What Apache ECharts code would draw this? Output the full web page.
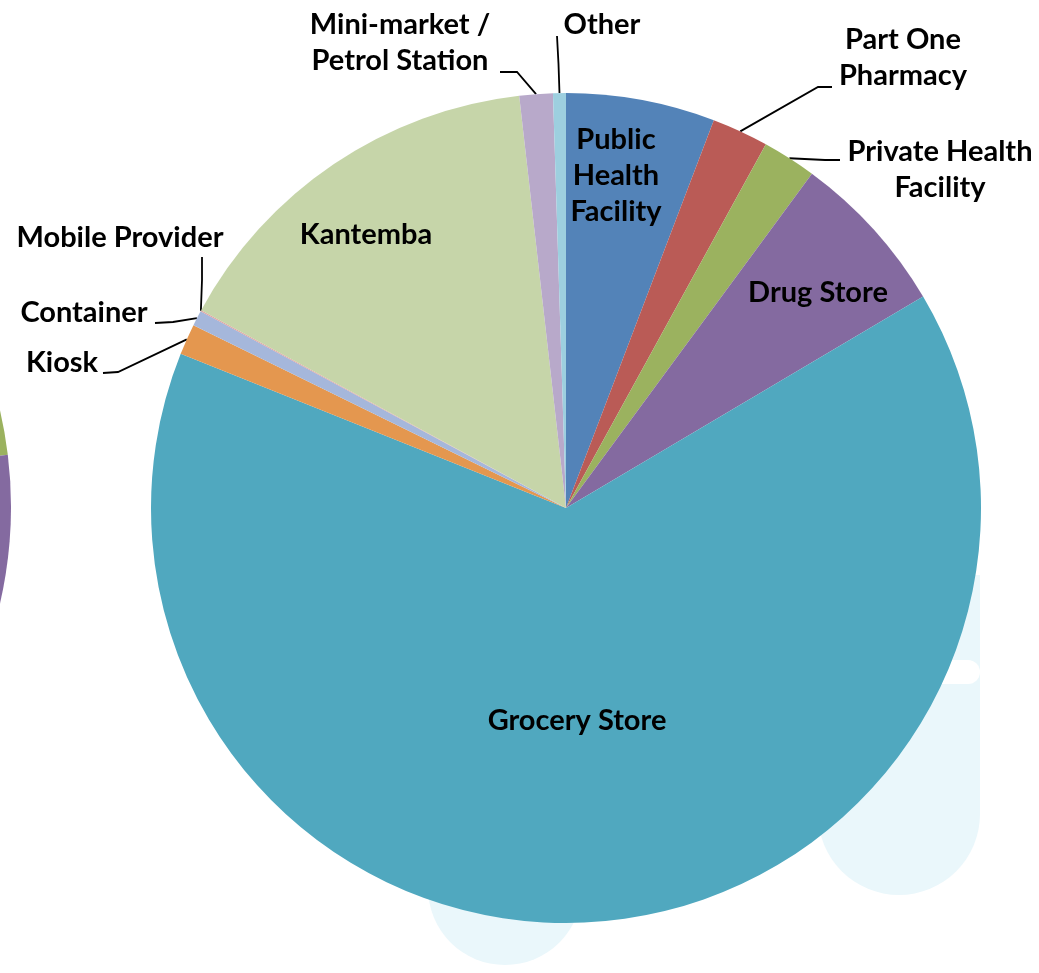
<!DOCTYPE html>
<html><head><meta charset="utf-8">
<script src="https://cdn.jsdelivr.net/npm/echarts@6/dist/echarts.min.js"></script>
<style>html,body{margin:0;padding:0;background:#fff}#c{width:1039px;height:973px}</style>
</head><body><div id="c"></div>
<script>
// ---- data ----
const categories = ['Public Health Facility','Part One Pharmacy','Private Health Facility','Drug Store','Grocery Store','Kiosk','Container','Mobile Provider','Kantemba','Mini-market / Petrol Station','Other'];
const shares = [5.8, 2.2, 2.1, 6.4, 64.6, 1.2, 0.6, 0.05, 15.3, 1.3, 0.5];
const labelTexts = ['Public\nHealth\nFacility','Part One\nPharmacy','Private Health\nFacility','Drug Store','Grocery Store','Kiosk','Container','Mobile Provider','Kantemba','Mini-market /\nPetrol Station','Other'];
const insideLabels = ['Public Health Facility','Drug Store','Grocery Store','Kantemba'];

// ---- styles / layout ----
const sliceColors = ['#5383B8','#BA5B56','#9BB25F','#846AA0','#50A8BF','#E4974F','#A5B7DB','#E0A3A1','#C6D5A9','#B8A9CA','#9DCFDF'];
const CX = 566, CY = 508, R = 415;
const labelPlacement = {
  'Public Health Facility': {x:616, y:176},
  'Drug Store': {x:818, y:293},
  'Grocery Store': {x:577, y:721},
  'Kantemba': {x:366, y:235},
  'Other': {x:602, y:25, line:[[558.5,64],[557,36]]},
  'Mini-market / Petrol Station': {x:400, y:43, line:[[517,72],[500,72]]},
  'Part One Pharmacy': {x:903, y:58, line:[[818,87],[832,87]]},
  'Private Health Facility': {x:940, y:170, line:[[825,160],[840,160]]},
  'Mobile Provider': {x:120, y:238, line:[[202,280],[202,257]]},
  'Container': {x:84, y:313, line:[[173,322],[155,323]]},
  'Kiosk': {x:62, y:363, line:[[118,372],[103,373]]}
};
const deg = Math.PI / 180;

const total = shares.reduce((a,b)=>a+b,0);
function anchorOf(i){
  let cum = 0; for (let k=0;k<i;k++) cum += shares[k];
  const a = (cum + shares[i]/2) / total * 2 * Math.PI;
  return [CX + R*Math.sin(a), CY - R*Math.cos(a)];
}

const data = categories.map((name,i)=>{
  const inside = insideLabels.includes(name);
  return {
    name, value: shares[i],
    itemStyle: {color: sliceColors[i]},
    label: {position: inside ? 'inside' : 'outside'},
    labelLine: {show: !inside}
  };
});

const chart = echarts.init(document.getElementById('c'), null, {renderer:'canvas'});
chart.setOption({
  backgroundColor: '#ffffff',
  animation: false,
  graphic: [
    {type:'rect', z:0, shape:{x:818, y:575, width:162, height:320, r:[0,0,81,81]}, style:{fill:'#EAF7FB'}},
    {type:'rect', z:1, shape:{x:880, y:660, width:100, height:24, r:12}, style:{fill:'#ffffff'}},
    {type:'circle', z:0, shape:{cx:505, cy:888, r:77}, style:{fill:'#EAF7FB'}},
    {type:'sector', z:0, shape:{cx:-418, cy:507, r:429, r0:0, startAngle:-25*deg, endAngle:-7*deg}, style:{fill:'#9BB25F'}},
    {type:'sector', z:0, shape:{cx:-418, cy:507, r:429, r0:0, startAngle:-7*deg, endAngle:25*deg}, style:{fill:'#846AA0'}}
  ],
  series: [{
    type: 'pie',
    z: 5,
    center: [CX, CY],
    radius: R,
    startAngle: 90,
    clockwise: true,
    avoidLabelOverlap: false,
    minShowLabelAngle: 0,
    silent: true,
    emphasis: {disabled: true},
    itemStyle: {borderWidth: 0},
    label: {
      show: true,
      formatter: p => labelTexts[p.dataIndex],
      fontFamily: 'Lato', fontWeight: 'bold', fontSize: 29, lineHeight: 36,
      color: '#000', align: 'center'
    },
    labelLine: {show: true, lineStyle: {color:'#000', width: 1.8}},
    labelLayout: function(params){
      const name = categories[params.dataIndex];
      const p = labelPlacement[name];
      const out = {x: p.x, y: p.y, align: 'center', verticalAlign: 'middle'};
      if (p.line) out.labelLinePoints = [anchorOf(params.dataIndex)].concat(p.line);
      return out;
    },
    data
  }]
});
</script></body></html>
